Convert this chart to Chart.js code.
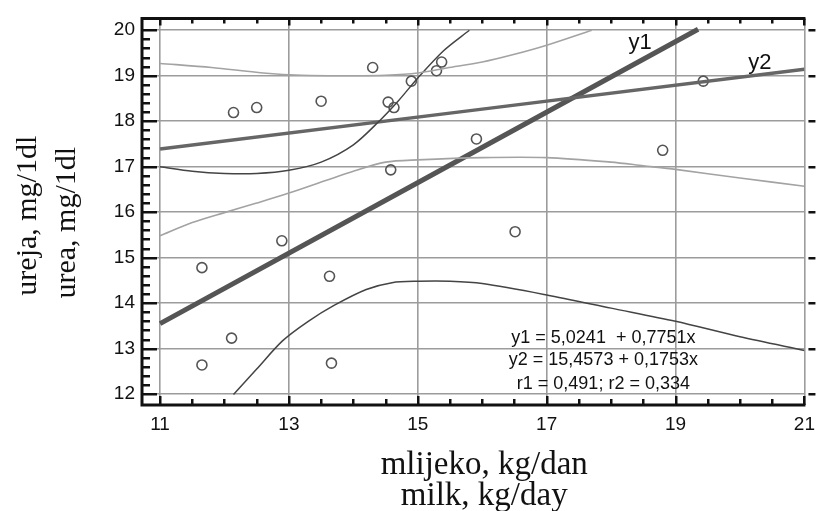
<!DOCTYPE html>
<html>
<head>
<meta charset="utf-8">
<script src="https://cdn.jsdelivr.net/npm/chart.js@4.4.1/dist/chart.umd.min.js"></script>
<style>
  html, body { margin: 0; padding: 0; background: #fff; }
  #wrap { position: relative; width: 823px; height: 511px; }
</style>
</head>
<body>
<div id="wrap"><canvas id="myChart" width="823" height="511"></canvas></div>
<script>
// measured points (milk kg/day, urea mg/1dl)
var pointX = [12.14, 12.50, 13.50, 14.30, 14.54, 14.63, 14.90, 15.29, 15.37, 14.58, 11.65, 12.89, 13.63, 12.11, 11.65, 13.66, 15.91, 19.43, 18.80, 16.51];
var pointY = [18.19, 18.30, 18.44, 19.18, 18.42, 18.30, 18.88, 19.11, 19.30, 16.93, 14.78, 15.37, 14.59, 13.23, 12.64, 12.68, 17.61, 18.88, 17.36, 15.57];

// regression lines, end points
var y1X = [11, 19.35];
var y1Y = [13.55, 20.02];
var y2X = [11, 21];
var y2Y = [17.39, 19.14];

// dark thin curves
var darkUpX = [11, 11.5, 12, 12.5, 13, 13.5, 14, 14.4, 14.7, 15, 15.4, 15.8];
var darkUpY = [17.0, 16.9, 16.85, 16.85, 16.92, 17.1, 17.48, 18.0, 18.45, 18.95, 19.55, 20.0];
var darkLoX = [12.14, 12.5, 12.9, 13.3, 13.7, 14.2, 14.6, 15.0, 15.5, 16.0, 17.0, 18.0, 19.0, 20.0, 21.0];
var darkLoY = [11.99, 12.55, 13.17, 13.6, 13.95, 14.3, 14.45, 14.48, 14.48, 14.43, 14.18, 13.89, 13.6, 13.26, 12.96];

// light thin curves
var lightUpX = [11, 11.8, 12.6, 13.2, 14, 14.5, 15, 15.45, 16, 16.5, 17, 17.7];
var lightUpY = [19.27, 19.18, 19.06, 19.01, 19.0, 19.01, 19.06, 19.17, 19.3, 19.47, 19.67, 20.0];
var lightLoX = [11, 11.5, 12, 12.5, 13, 14, 14.5, 15, 16, 17, 18, 18.5, 19, 20, 21];
var lightLoY = [15.48, 15.77, 15.99, 16.2, 16.42, 16.9, 17.1, 17.15, 17.2, 17.2, 17.1, 17.02, 16.94, 16.75, 16.57];

var xTicks = [11, 13, 15, 17, 19, 21];
var yTicks = [12, 13, 14, 15, 16, 17, 18, 19, 20];

var eqLines = ['y1 = 5,0241  + 0,7751x', 'y2 = 15,4573 + 0,1753x', 'r1 = 0,491; r2 = 0,334'];
var yTitle = ['ureja, mg/1dl', 'urea, mg/1dl'];
var xTitle = ['mlijeko, kg/dan', 'milk, kg/day'];

function pairs(xs, ys) {
    var out = [];
    for (var i = 0; i < xs.length; i++) {
        out.push({ x: xs[i], y: ys[i] });
    }
    return out;
}

function lineSet(xs, ys, color, width) {
    return {
        data: pairs(xs, ys),
        showLine: true,
        borderColor: color,
        borderWidth: width,
        pointRadius: 0,
        fill: false,
        tension: 0.3
    };
}

var framePlugin = {
    id: 'frame',
    afterDraw: function (chart) {
        var ctx = chart.ctx;
        var ca = chart.chartArea;
        var sx = chart.scales.x;
        var sy = chart.scales.y;
        ctx.save();
        ctx.strokeStyle = '#111';
        ctx.lineCap = 'butt';

        // axes
        ctx.lineWidth = 3;
        ctx.beginPath();
        ctx.moveTo(ca.left, ca.top);
        ctx.lineTo(ca.right + 1, ca.top);
        ctx.moveTo(ca.left, ca.top - 1.5);
        ctx.lineTo(ca.left, ca.bottom + 1.5);
        ctx.moveTo(ca.left, ca.bottom);
        ctx.lineTo(ca.right + 1, ca.bottom);
        ctx.stroke();

        // left ticks every 0.2
        ctx.lineWidth = 2.5;
        ctx.beginPath();
        for (var k = 0; k <= 40; k++) {
            var v = 12 + k * 0.2;
            var py = Math.round(sy.getPixelForValue(v)) + 0.25;
            var len = (k % 5 === 0) ? 15 : 8;
            ctx.moveTo(ca.left, py);
            ctx.lineTo(ca.left + len, py);
        }
        // top and bottom ticks every 0.5
        for (var j = 0; j <= 20; j++) {
            var xv = 11 + j * 0.5;
            var px = Math.round(sx.getPixelForValue(xv)) + 0.25;
            var major = (j % 4 === 0);
            ctx.moveTo(px, ca.top);
            ctx.lineTo(px, ca.top + (major ? 7 : 5));
            ctx.moveTo(px, ca.bottom);
            ctx.lineTo(px, ca.bottom - (major ? 9 : 6));
        }
        // right ticks
        for (var m = 0; m < yTicks.length; m++) {
            var ry = Math.round(sy.getPixelForValue(yTicks[m])) + 0.25;
            ctx.moveTo(ca.right + 4, ry);
            ctx.lineTo(ca.right + 11, ry);
        }
        ctx.stroke();

        // line names
        ctx.fillStyle = '#111';
        ctx.font = '22px "Liberation Sans", Arial, sans-serif';
        ctx.textAlign = 'center';
        ctx.textBaseline = 'alphabetic';
        ctx.fillText('y1', sx.getPixelForValue(18.45), sy.getPixelForValue(19.58));
        ctx.fillText('y2', sx.getPixelForValue(20.31), sy.getPixelForValue(19.14));

        // equations
        ctx.font = '18px "Liberation Sans", Arial, sans-serif';
        ctx.textBaseline = 'middle';
        var ex = sx.getPixelForValue(17.88);
        ctx.fillText(eqLines[0], ex, sy.getPixelForValue(13.23));
        ctx.fillText(eqLines[1], ex, sy.getPixelForValue(12.75));
        ctx.fillText(eqLines[2], ex, sy.getPixelForValue(12.23));

        // axis titles
        ctx.font = '33px "Liberation Serif", "Times New Roman", serif';
        ctx.textAlign = 'center';
        ctx.textBaseline = 'middle';
        var mid = (ca.left + ca.right) / 2 + 11;
        ctx.fillText(xTitle[0], mid, 465);
        ctx.fillText(xTitle[1], mid, 496);
        ctx.font = '30px "Liberation Serif", "Times New Roman", serif';
        var ym = (ca.top + ca.bottom) / 2 + 8;
        ctx.save();
        ctx.translate(28, ym - 4);
        ctx.rotate(-Math.PI / 2);
        ctx.fillText(yTitle[0], 0, 0);
        ctx.restore();
        ctx.save();
        ctx.translate(67, ym + 3);
        ctx.rotate(-Math.PI / 2);
        ctx.fillText(yTitle[1], 0, 0);
        ctx.restore();
        ctx.restore();
    }
};

var ctx = document.getElementById('myChart');
var myChart = new Chart(ctx, {
    type: 'scatter',
    data: {
        datasets: [
            lineSet(lightUpX, lightUpY, '#a3a3a3', 1.6),
            lineSet(lightLoX, lightLoY, '#a3a3a3', 1.6),
            lineSet(darkUpX, darkUpY, '#444', 1.5),
            lineSet(darkLoX, darkLoY, '#444', 1.5),
            lineSet(y2X, y2Y, '#666', 3.5),
            lineSet(y1X, y1Y, '#555', 5),
            {
                data: pairs(pointX, pointY),
                pointRadius: 5,
                pointBorderWidth: 1.6,
                pointBorderColor: '#555',
                pointBackgroundColor: 'rgba(255,255,255,0)',
                showLine: false
            }
        ]
    },
    options: {
        responsive: false,
        animation: false,
        devicePixelRatio: 1,
        layout: { padding: { left: 0, right: 11, top: 14, bottom: 0 } },
        plugins: {
            legend: { display: false },
            tooltip: { enabled: false }
        },
        scales: {
            x: {
                type: 'linear',
                min: 10.72,
                max: 21,
                afterBuildTicks: function (scale) {
                    scale.ticks = xTicks.map(function (v) { return { value: v }; });
                },
                afterFit: function (scale) { scale.height = 106; },
                grid: { color: '#9c9c9c', lineWidth: 1.6, drawTicks: false },
                border: { display: false },
                ticks: {
                    color: '#111',
                    padding: 8,
                    maxRotation: 0,
                    autoSkip: false,
                    font: { family: '"Liberation Sans", Arial, sans-serif', size: 19 }
                }
            },
            y: {
                type: 'linear',
                min: 11.76,
                max: 20.26,
                afterBuildTicks: function (scale) {
                    scale.ticks = yTicks.map(function (v) { return { value: v }; });
                },
                afterFit: function (scale) { scale.width = 142; },
                grid: { color: '#9c9c9c', lineWidth: 1.6, drawTicks: false },
                border: { display: false },
                ticks: {
                    color: '#111',
                    padding: 7,
                    autoSkip: false,
                    font: { family: '"Liberation Sans", Arial, sans-serif', size: 19 }
                }
            }
        }
    },
    plugins: [framePlugin]
});
</script>
</body>
</html>
